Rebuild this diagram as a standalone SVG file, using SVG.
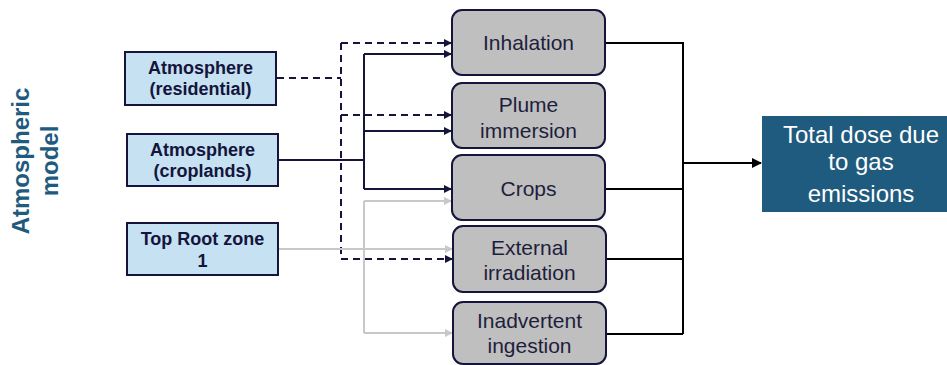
<svg xmlns="http://www.w3.org/2000/svg" width="947" height="365" viewBox="0 0 947 365">
<style>
.src{fill:#C5E1F2;stroke:#14143C;stroke-width:2}
.src-t{font-family:"Liberation Sans",Arial,sans-serif;font-weight:bold;font-size:18px;fill:#14143C;text-anchor:middle}
.mid{fill:#BFBFBF;stroke:#14143C;stroke-width:2}
.mid-t{font-family:"Liberation Sans",Arial,sans-serif;font-size:21px;fill:#1E1E3C;text-anchor:middle}
.dash{fill:none;stroke:#14143C;stroke-width:2;stroke-dasharray:7,5}
.nav{fill:none;stroke:#14143C;stroke-width:2}
.gry{fill:none;stroke:#C8C8C8;stroke-width:2}
.blk{fill:none;stroke:#000;stroke-width:2}
</style>
<defs>
<marker id="aN" markerWidth="8" markerHeight="8" refX="7" refY="4" orient="auto" markerUnits="userSpaceOnUse"><path d="M0,0 L8,4 L0,8 z" fill="#14143C"/></marker>
<marker id="aG" markerWidth="8" markerHeight="8" refX="7" refY="4" orient="auto" markerUnits="userSpaceOnUse"><path d="M0,0 L8,4 L0,8 z" fill="#C8C8C8"/></marker>
<marker id="aB" markerWidth="10" markerHeight="10" refX="9" refY="5" orient="auto" markerUnits="userSpaceOnUse"><path d="M0,0 L10,5 L0,10 z" fill="#000"/></marker>
</defs>
<rect width="947" height="365" fill="#fff"/>
<g id="label" font-family="Liberation Sans,Arial,sans-serif" font-weight="bold" font-size="24" fill="#1F5B7E" text-anchor="middle">
<text transform="translate(29,161) rotate(-90)">Atmospheric</text>
<text transform="translate(58,161) rotate(-90)">model</text>
</g>
<g id="connectors">
<path class="dash" d="M277,78 H341"/>
<path class="dash" d="M341,43 V259"/>
<path class="dash" d="M341,43 H451" marker-end="url(#aN)"/>
<path class="dash" d="M341,115 H451" marker-end="url(#aN)"/>
<path class="dash" d="M341,259 H452" marker-end="url(#aN)"/>
<path class="nav" d="M279,160 H364"/>
<path class="nav" d="M364,54 V189"/>
<path class="nav" d="M364,54 H451" marker-end="url(#aN)"/>
<path class="nav" d="M364,131 H451" marker-end="url(#aN)"/>
<path class="nav" d="M364,189 H451" marker-end="url(#aN)"/>
<path class="gry" d="M279,249 H452" marker-end="url(#aG)"/>
<path class="gry" d="M364,201 V333"/>
<path class="gry" d="M364,201 H451" marker-end="url(#aG)"/>
<path class="gry" d="M364,333 H452" marker-end="url(#aG)"/>
<path class="blk" d="M605,43 H683 V334"/>
<path class="blk" d="M605,189 H683"/>
<path class="blk" d="M605,259 H683"/>
<path class="blk" d="M605,334 H683"/>
<path class="blk" d="M683,163 H761" marker-end="url(#aB)"/>
</g>
<g id="atm-res"><rect class="src" x="125" y="52" width="151" height="53"/><text class="src-t" x="200.5" y="74">Atmosphere</text><text class="src-t" x="200.5" y="95">(residential)</text></g>
<g id="atm-crop"><rect class="src" x="127" y="134" width="151" height="52"/><text class="src-t" x="202.5" y="156">Atmosphere</text><text class="src-t" x="202.5" y="177">(croplands)</text></g>
<g id="root"><rect class="src" x="127" y="223" width="151" height="52"/><text class="src-t" x="202.5" y="245">Top Root zone</text><text class="src-t" x="202.5" y="267">1</text></g>
<g id="inhalation"><rect class="mid" x="452" y="10" width="153" height="65" rx="10"/><text class="mid-t" x="528.5" y="50">Inhalation</text></g>
<g id="plume"><rect class="mid" x="452" y="83" width="153" height="65" rx="10"/><text class="mid-t" x="528.5" y="112">Plume</text><text class="mid-t" x="528.5" y="138">immersion</text></g>
<g id="crops"><rect class="mid" x="452" y="155" width="153" height="65" rx="10"/><text class="mid-t" x="528.5" y="196">Crops</text></g>
<g id="external"><rect class="mid" x="453" y="226" width="153" height="66" rx="10"/><text class="mid-t" x="529.5" y="255">External</text><text class="mid-t" x="529.5" y="280">irradiation</text></g>
<g id="inadvertent"><rect class="mid" x="453" y="302" width="153" height="62" rx="10"/><text class="mid-t" x="529.5" y="328">Inadvertent</text><text class="mid-t" x="529.5" y="353">ingestion</text></g>
<g id="total"><rect x="762" y="116" width="190" height="96" fill="#1F5B7E"/><text font-family="Liberation Sans,Arial,sans-serif" font-size="24" fill="#fff" text-anchor="middle"><tspan x="861" y="143">Total dose due</tspan><tspan x="861" y="170">to gas</tspan><tspan x="861" y="202">emissions</tspan></text></g>
</svg>
